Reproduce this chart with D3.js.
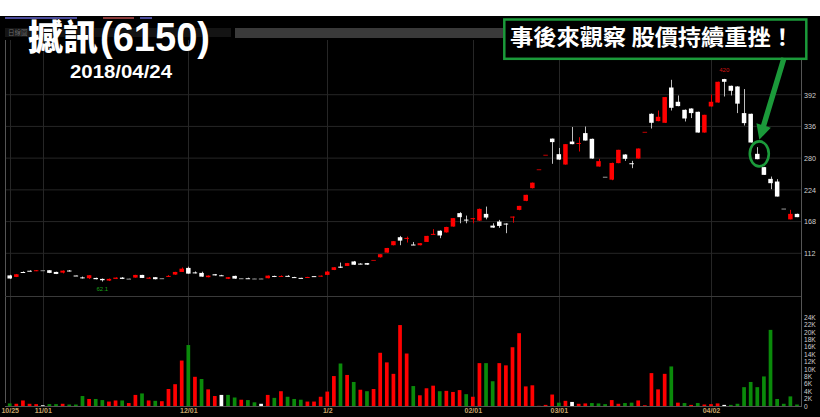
<!DOCTYPE html>
<html><head><meta charset="utf-8">
<script src="https://cdn.jsdelivr.net/npm/d3@7"></script>
<style>html,body{margin:0;padding:0;background:#fff;overflow:hidden}svg{display:block}</style>
</head><body><svg id="c" width="820" height="417"></svg>
<script>
// ---- data (one entry per trading day, 2017/10/25 .. 2018/04/24) ----
const opens = [73,70.3,79,81.2,81.8,82.1,82.1,79.1,77.9,81.6,
72.8,69.5,68,68.5,66.8,63.8,66.8,69.1,67.3,69.1,
73.8,68.6,69.8,68,71.5,74.4,79.1,86.2,78.3,77.4,
69.8,75,73.2,67,72.1,68,68,67.5,67.5,68,
72,71.7,72.2,70,68.6,69.5,71.7,71.5,73.9,82.6,
88.5,89.7,97.6,93.8,94.7,100.3,105,113.2,126.3,140.4,
138.5,127.5,126.3,132.1,145.5,151.8,148.9,159.2,182.9,171.5,
173.5,169.7,181.6,160.9,168,164.5,176.5,188.6,204.6,227,
260.4,286,314.5,287,268.7,309.3,306,324.2,314.1,265.2,
247.2,242,271.2,286.4,271,279.3,326.5,358.3,345.4,342.4,
404.7,379.5,365.3,367.6,361.8,325.2,371.2,378.2,419.6,407.7,
406.5,359.5,358.3,287.6,264.1,243.4,238.7,191,171.9,181.6];
const highs = [74,75.5,80,82,82.5,82.3,82.3,79.5,81.8,82.5,
73,71,73.5,69,67.5,67.5,69.5,70,67.5,74,
74,70,70,68.2,73.5,79.3,87,88.5,80,79.5,
73,75.5,74,70,72.5,68.3,69,67.7,67.7,72.8,
72.5,73,73.5,70.5,68.8,70.5,71.9,72.8,80.9,87.7,
95.6,95,98.5,94.5,95,100.3,110.5,121.5,133.5,142.7,
141.5,132,130,142.8,154.6,152.5,158.8,174.3,184.6,178.6,
174.5,191,194.5,165,171,165,177,195.8,215.3,236.9,
260.4,286,314.5,298,304.7,335,317,335.8,314.5,278.8,
247.2,272,294.7,287,275.2,297,326.5,359,364.1,388,
418.3,390.6,366,368,362,356.5,392.4,415,420,408,
407,401.9,358.5,299.4,264.5,247.5,242.9,191,188.7,182];
const lows = [67,70,77.5,80,80.5,82,77,75.3,76.5,80,
72.3,67.5,66.5,66,62.1,63,66.5,66.5,67,69,
68.3,67.5,66,67.8,70.5,74,79,76,76.5,70.5,
69.5,72.8,72,66.5,67,67.8,67,67.3,67.3,67.8,
70,70.8,71,69,68.3,69,71.3,71,73.5,82.3,
86,89.5,91.5,92.5,91.5,100.3,104.5,113,126,126.3,
131,126.5,126,132,145,138.7,148.5,159,165,165,
165,169,172,157,157,147.5,166,188,204,226.5,
260.4,286,270,277,268.5,304.5,291.7,311,279,265,
247.2,241,271,275.2,262.3,279,326.5,332.3,345,342,
364.1,371.5,344.7,350.7,325,325,371,378,388.8,390.6,
359.5,337.6,307.6,278,250.5,225.2,212.2,191,171.9,175.8];
const closes = [67.5,75,78.6,80.9,82.1,82.1,77.4,75.6,81.4,81,
72.6,69.1,73.3,66.3,64.5,66.8,69.1,66.8,67.3,73.8,
68.5,69,66.3,68,72.1,79.1,84.9,76.1,77.9,70.8,
72.6,73,73,69.8,67.3,68,67.8,67.5,67.5,72.6,
70.3,72,71.6,69.8,68.5,70.2,71.5,72.5,79.7,87.4,
86.5,94.7,91.8,93.6,91.9,100.3,110.4,121.4,133.4,134.4,
139.2,127,129.8,142.7,146.3,143.5,158.5,174.1,175.8,171,
174,190.4,175.1,157.4,160.3,164,176.8,195.7,215.2,236.7,
260.4,286,308.3,277.5,304.7,304.7,306.8,311.1,279.3,274.7,
247.2,271.5,294.7,278.8,270,297,326.5,342.4,353,387.8,
368.9,371.9,350,359.5,325.2,356.5,379.5,414.8,414.8,398.9,
376.2,341.8,307.6,278.2,250.5,235.8,212.2,191,181.6,175.8];
const prevClose0 = 69;
const volumes = [700,600,1500,600,500,200,500,500,600,400,
400,2700,1900,1900,1600,1200,1500,1500,800,3000,
3400,1500,1400,1300,4600,5900,12300,16500,7900,7300,
4500,2700,3000,3000,2300,1700,1600,1000,600,3000,
2200,4000,2500,1900,1700,1200,1200,2500,3900,8100,
11500,8400,6500,4400,4000,4600,14400,11800,8700,21900,
14200,5400,2900,4800,5500,4000,4100,3800,4300,3200,
2500,11600,11600,6700,11600,11000,15900,19700,5300,5600,
50,300,3100,900,1400,1100,600,700,800,700,
500,1600,600,800,900,1500,200,8900,4500,8700,
10700,900,800,300,800,400,500,700,300,300,
600,5100,6500,5100,8000,20600,1900,600,2600,400];
const dateTickIndex = [0,5,27,48,70,83,106];
const dateTickLabels = ["10/25","11/01","12/01","1/2","02/01","03/01","04/02"];
const priceTicks = [112,168,224,280,336,392];
const volumeTicks = [0,2000,4000,6000,8000,10000,12000,14000,16000,18000,20000,22000,24000];
const titleName = "撼訊";
const titleCode = "(6150)";
const dateText = "2018/04/24";
const noteText = "事後來觀察 股價持續重挫！";
const markedDay = 113;

// ---- drawing ----
const N = closes.length;
const svg = d3.select("#c");
const RED = "#ff0000", WHITE = "#ffffff", GREEN = "#0a8a0a";
const x = d3.scaleBand().domain(d3.range(N)).range([6.39, 800.3]).paddingInner(0.32).paddingOuter(0.16);
const xc = i => x(i) + x.bandwidth() / 2;
const yP = d3.scaleLinear().domain([112, 392]).range([253.3, 94.7]);
const yV = d3.scaleLinear().domain([0, 24000]).range([406, 317.3]);
const prevC = i => i === 0 ? prevClose0 : closes[i - 1];

svg.append("rect").attr("x",0).attr("y",0).attr("width",820).attr("height",417).attr("fill","#fff");
svg.append("rect").attr("x",0).attr("y",16).attr("width",820).attr("height",401).attr("fill","#000");

// header UI strip
svg.append("rect").attr("x",5).attr("y",17).attr("width",72).attr("height",2).attr("fill","#4b4b9a");
svg.append("rect").attr("x",103).attr("y",17).attr("width",31).attr("height",2).attr("fill","#8a3a3a");
svg.append("rect").attr("x",140).attr("y",17).attr("width",12).attr("height",2).attr("fill","#4b4b9a");
svg.append("rect").attr("x",5).attr("y",28).attr("width",226).attr("height",9).attr("fill","#141414");
svg.append("text").attr("x",8).attr("y",35).attr("fill","#6a6a6a").attr("font-size",6.5)
  .attr("font-family","Noto Sans CJK TC").text("日線圖");
svg.append("rect").attr("x",235).attr("y",28).attr("width",270).attr("height",10).attr("fill","#3a3a3a");

// grids
const g = svg.append("g");
g.selectAll(".hg").data(priceTicks).join("line")
  .attr("x1",5).attr("x2",801).attr("y1",d=>yP(d)).attr("y2",d=>yP(d))
  .attr("stroke","#262626").attr("stroke-width",1);
g.selectAll(".vg").data(dateTickIndex).join("line")
  .attr("x1",d=>Math.round(xc(d))+0.5).attr("x2",d=>Math.round(xc(d))+0.5).attr("y1",40).attr("y2",406)
  .attr("stroke","#262626").attr("stroke-width",1);
g.append("line").attr("x1",5.5).attr("x2",5.5).attr("y1",40).attr("y2",403).attr("stroke","#555");
g.append("line").attr("x1",5).attr("x2",801).attr("y1",296.5).attr("y2",296.5).attr("stroke","#3a3a3a");
g.append("line").attr("x1",5).attr("x2",801).attr("y1",406.5).attr("y2",406.5).attr("stroke","#555");
g.append("line").attr("x1",801.5).attr("x2",801.5).attr("y1",40).attr("y2",407).attr("stroke","#555");

// candles
function candleColor(i){
  if (closes[i] > opens[i]) return RED;
  if (closes[i] < opens[i]) return WHITE;
  if (highs[i] === lows[i]) return closes[i] > prevC(i) ? "#c00000" : "#9a9a9a";
  return "#9a9a9a";
}
const cg = svg.append("g");
const idx = d3.range(N);
cg.selectAll(".wick").data(idx).join("line")
  .attr("x1",i=>Math.round(xc(i))+0.5).attr("x2",i=>Math.round(xc(i))+0.5)
  .attr("y1",i=>yP(highs[i])).attr("y2",i=>yP(lows[i]))
  .attr("stroke",i=>{const c=candleColor(i); return c===WHITE?"#bdbdbd":(c===RED?"#e00000":c);})
  .attr("stroke-width",1);
cg.selectAll(".body").data(idx).join("rect")
  .attr("x",i=>x(i)).attr("width",x.bandwidth())
  .attr("y",i=>Math.min(yP(opens[i]),yP(closes[i])))
  .attr("height",i=>Math.max(1,Math.abs(yP(opens[i])-yP(closes[i]))))
  .attr("fill",candleColor);

// volume
function volColor(i){
  const d = closes[i] - prevC(i);
  return d > 0 ? RED : (d < 0 ? GREEN : WHITE);
}
const vw = 3.7;
svg.append("g").selectAll("rect").data(idx).join("rect")
  .attr("x",i=>xc(i)-vw/2).attr("width",vw)
  .attr("y",i=>yV(volumes[i])).attr("height",i=>yV(0)-yV(volumes[i]))
  .attr("fill",volColor);

// axes
const pa = svg.append("g").attr("transform","translate(801,0)")
  .call(d3.axisRight(yP).tickValues(priceTicks).tickSize(0).tickPadding(3).tickFormat(d3.format("d")));
pa.select(".domain").remove();
pa.selectAll("text").attr("fill","#cfcfcf").attr("font-size",7.2).attr("font-family","Liberation Sans, Arial, sans-serif");

const va = svg.append("g").attr("transform","translate(801,0)")
  .call(d3.axisRight(yV).tickValues(volumeTicks).tickSize(0).tickPadding(3).tickFormat(d=>d===0?"0":(d/1000)+"K"));
va.select(".domain").remove();
va.selectAll("text").attr("fill","#cfcfcf").attr("font-size",6.6).attr("font-family","Liberation Sans, Arial, sans-serif");

const xa = svg.append("g").attr("transform","translate(0,406)")
  .call(d3.axisBottom(d3.scalePoint().domain(d3.range(N)).range([xc(0), xc(N-1)]))
    .tickValues(dateTickIndex).tickSize(0).tickPadding(2).tickFormat((d,k)=>dateTickLabels[k]));
xa.select(".domain").remove();
xa.selectAll("text").attr("fill","#c9a46a").attr("font-size",7).attr("font-weight","bold")
  .attr("font-family","Liberation Sans, Arial, sans-serif");

// extreme labels
const iMax = d3.maxIndex(highs), iMin = d3.minIndex(lows);
svg.append("text").attr("x",xc(iMax)).attr("y",yP(highs[iMax])-7).attr("text-anchor","middle")
  .attr("fill","#d01010").attr("font-size",6).attr("font-family","Liberation Sans, Arial").text(d3.format("d")(highs[iMax]));
svg.append("text").attr("x",xc(iMin)).attr("y",yP(lows[iMin])+9.5).attr("text-anchor","middle")
  .attr("fill","#1aa01a").attr("font-size",6).attr("font-family","Liberation Sans, Arial").text(lows[iMin]);

// title
svg.append("text").attr("x",28).attr("y",50).attr("fill","#fff")
  .attr("font-family","Noto Sans CJK TC").attr("font-weight",900).attr("font-size",35)
  .attr("textLength",70).attr("lengthAdjust","spacingAndGlyphs")
  .attr("stroke","#000").attr("stroke-width",1).attr("paint-order","stroke").text(titleName);
svg.append("text").attr("x",100).attr("y",51).attr("fill","#fff")
  .attr("font-family","Liberation Sans Narrow, Liberation Sans, Arial").attr("font-weight",700).attr("font-size",40)
  .attr("textLength",110).attr("lengthAdjust","spacingAndGlyphs")
  .attr("stroke","#000").attr("stroke-width",1).attr("paint-order","stroke").text(titleCode);
svg.append("text").attr("x",70).attr("y",77.5).attr("fill","#fff")
  .attr("font-family","Liberation Sans Narrow, Liberation Sans, Arial").attr("font-weight",700).attr("font-size",18.5)
  .attr("textLength",102).attr("lengthAdjust","spacingAndGlyphs").text(dateText);

// annotation box
const GC = "#1b9a3a";
svg.append("rect").attr("x",504.3).attr("y",19.5).attr("width",302).attr("height",39.3)
  .attr("fill","#000").attr("stroke",GC).attr("stroke-width",2.5);
svg.append("text").attr("x",510).attr("y",45).attr("fill","#fff")
  .attr("font-family","Noto Sans CJK TC").attr("font-weight",700).attr("font-size",21.5)
  .attr("textLength",284).attr("lengthAdjust","spacingAndGlyphs").text(noteText);

// ellipse + arrow on marked day
const ecx = xc(markedDay)+2, ecy = yP(opens[markedDay]), rx = 9.5, ry = 12.5;
svg.append("ellipse").attr("cx",ecx).attr("cy",ecy).attr("rx",rx).attr("ry",ry)
  .attr("fill","none").attr("stroke",GC).attr("stroke-width",2.6);
const tip = [ecx, ecy-ry-1.5], start = [784, 58];
const dx = tip[0]-start[0], dy = tip[1]-start[1], L = Math.hypot(dx,dy);
const u = [dx/L, dy/L], n = [-u[1], u[0]];
const hb = [tip[0]-u[0]*15, tip[1]-u[1]*15];
const P = (p,k,w)=>[p[0]+n[0]*w*k, p[1]+n[1]*w*k];
const pts = [P(start,1,2.7),P(hb,1,2.7),P(hb,1,7.5),tip,P(hb,-1,7.5),P(hb,-1,2.7),P(start,-1,2.7)];
svg.append("path").attr("d","M"+pts.map(p=>p.join(",")).join("L")+"Z").attr("fill",GC);
</script></body></html>
